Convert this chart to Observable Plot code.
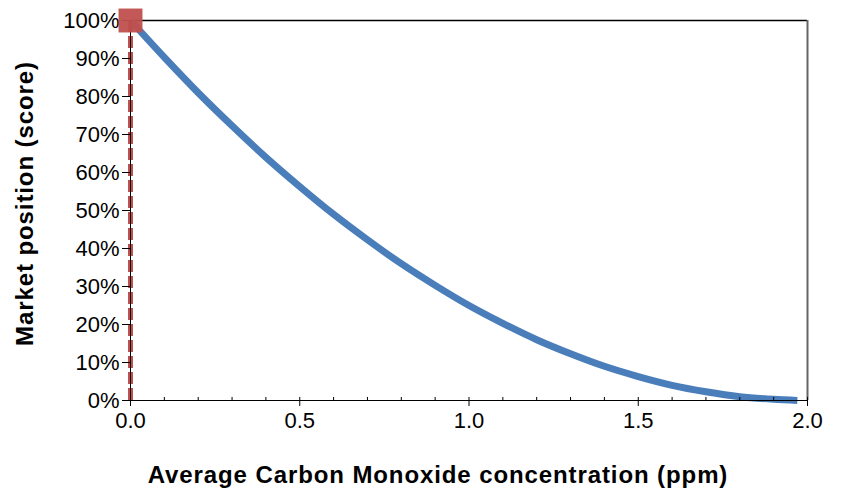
<!DOCTYPE html>
<html>
<head>
<meta charset="utf-8">
<script src="https://cdn.jsdelivr.net/npm/d3@7"></script>
<script src="https://cdn.jsdelivr.net/npm/@observablehq/plot@0.6"></script>
<style>
  html, body { margin: 0; padding: 0; background: #fff; }
  #chart svg { display: block; }
  #chart svg g[aria-label="x-axis tick label"],
  #chart svg g[aria-label="y-axis tick label"] { font-size: 22px; fill: #000; }
</style>
</head>
<body>
<div id="chart"></div>
<script>
// Concentration (ppm) and score (fraction)
const concentration = [0, 0.1, 0.2, 0.3, 0.4, 0.5, 0.6, 0.7, 0.8, 0.9, 1.0, 1.1, 1.2, 1.3, 1.4, 1.5, 1.6, 1.7, 1.8, 1.9, 1.97];
const score = [1.0, 0.903, 0.81, 0.723, 0.64, 0.563, 0.49, 0.423, 0.36, 0.303, 0.25, 0.203, 0.16, 0.123, 0.09, 0.063, 0.04, 0.023, 0.01, 0.003, 0.0];
// Current position marker
const markerX = [0];
const markerY = [1.0];
// Axis ticks
const xMajorTicks = [0, 0.5, 1.0, 1.5, 2.0];
const xMinorTicks = [0.1, 0.2, 0.3, 0.4, 0.6, 0.7, 0.8, 0.9, 1.1, 1.2, 1.3, 1.4, 1.6, 1.7, 1.8, 1.9];
const yTicks = [0, 0.1, 0.2, 0.3, 0.4, 0.5, 0.6, 0.7, 0.8, 0.9, 1.0];
const xTitle = "Average Carbon Monoxide concentration (ppm)";
const yTitle = "Market position (score)";

const curve = concentration.map((x, i) => ({x, y: score[i]}));
const marker = markerX.map((x, i) => ({x, y: markerY[i]}));

const chart = Plot.plot({
  width: 841,
  height: 496,
  marginLeft: 130,
  marginRight: 34,
  marginTop: 20,
  marginBottom: 96,
  style: {fontFamily: "Liberation Sans, Arial, sans-serif", color: "#000", background: "#fff"},
  x: {domain: [0, 2], label: null},
  y: {domain: [0, 1], label: null},
  marks: [
    // frame top & right
    Plot.ruleY([1], {stroke: "#000", strokeWidth: 1.5}),
    Plot.ruleX([2], {stroke: "#666", strokeWidth: 2}),
    // curve
    Plot.line(curve, {x: "x", y: "y", stroke: "#4a7ebb", strokeWidth: 7, curve: "monotone-x", strokeLinecap: "butt"}),
    // dashed red vertical line
    Plot.ruleX(marker, {x: "x", y1: 0, y2: "y", stroke: "#c0504d", strokeWidth: 5, strokeDasharray: "12,4"}),
    // axes lines
    Plot.ruleX([0], {stroke: "#000", strokeWidth: 1}),
    Plot.ruleY([0], {stroke: "#000", strokeWidth: 1}),
    // y axis
    Plot.axisY({ticks: yTicks, tickFormat: d3.format(".0%"), tickSize: 8, tickPadding: 3, stroke: "#000"}),
    // x axis major ticks (outward) and inward stubs
    Plot.axisX({ticks: xMajorTicks, tickFormat: d3.format(".1f"), tickSize: 6, tickPadding: 6}),
    Plot.ruleX(xMajorTicks, {x: d => d, y1: 0, y2: 0.008, stroke: "#000"}),
    // x minor ticks pointing up
    Plot.ruleX(xMinorTicks, {x: d => d, y1: 0, y2: 0.008, stroke: "#000"}),
    // marker square
    Plot.dot(marker, {x: "x", y: "y", symbol: "square", r: 13.5, fill: "#c0504d", fillOpacity: 0.95}),
    // axis titles
    Plot.text([xTitle], {frameAnchor: "bottom", dx: -31, dy: 75, lineAnchor: "middle", textAnchor: "middle", fontSize: 24, fontWeight: "bold", fill: "#000"}),
    Plot.text([yTitle], {frameAnchor: "left", dx: -105, dy: -7, rotate: -90, lineAnchor: "middle", textAnchor: "middle", fontSize: 24, fontWeight: "bold", fill: "#000"})
  ]
});
d3.select(chart).selectAll("text")
  .filter(function() { const t = this.textContent; return t === xTitle || t === yTitle; })
  .style("letter-spacing", "0.9px");
document.getElementById("chart").appendChild(chart);
</script>
</body>
</html>
